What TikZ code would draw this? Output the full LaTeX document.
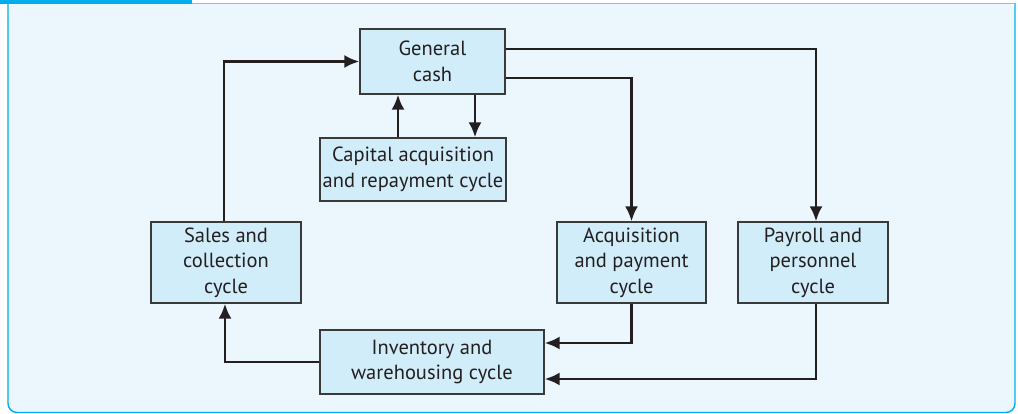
\documentclass[tikz,border=0pt]{standalone}
\usepackage{fontspec}
\setmainfont{PT Sans}
\usetikzlibrary{arrows.meta}

\definecolor{framecyan}{HTML}{00AEEF}
\definecolor{framebg}{HTML}{EBF6FD}
\definecolor{boxbg}{HTML}{D2EDFA}
\definecolor{boxline}{HTML}{3A3A3A}
\definecolor{ink}{HTML}{231F20}

\begin{document}
\begin{tikzpicture}[x=1pt,y=-1pt,
  cyclebox/.style={draw=boxline,fill=boxbg,line width=1.2pt,align=center,
    inner sep=0pt,text=ink,font=\fontsize{20.5}{25.5}\selectfont},
  flow/.style={draw=ink,line width=2.8pt,-{Latex[length=15pt,width=13pt]}}]
\useasboundingbox (0,0) rectangle (1018,414);
% frame
\fill[framebg,rounded corners=9pt] (8,3) -- (8,412.5) -- (1015,412.5) -- (1015,3) -- cycle;
\draw[framecyan,line width=1.4pt,rounded corners=9pt] (8,3) -- (8,412.5) -- (1015,412.5) -- (1015,3);
\draw[framecyan!60,line width=1pt] (0,3.5) -- (1015,3.5);
\fill[framecyan] (0,0) rectangle (192,4);
% cycles
\node[cyclebox,minimum width=145pt,minimum height=65pt] (cash) at (432.5,61.5) {General\\cash};
\node[cyclebox,minimum width=186pt,minimum height=63pt] (capital) at (413,169.5) {Capital acquisition\\and repayment cycle};
\node[cyclebox,minimum width=150pt,minimum height=81pt] (sales) at (226,262.5) {Sales and\\collection\\cycle};
\node[cyclebox,minimum width=149pt,minimum height=81pt] (acq) at (631.5,262.5) {Acquisition\\and payment\\cycle};
\node[cyclebox,minimum width=150pt,minimum height=81pt] (pay) at (813,262.5) {Payroll and\\personnel\\cycle};
\node[cyclebox,minimum width=224pt,minimum height=64pt] (inv) at (432,362) {Inventory and\\warehousing cycle};
% flows
\draw[flow] ([xshift=-2pt]sales.north) |- (cash.west);
\draw[flow] ([xshift=-15pt]capital.north) -- ([xshift=-15pt]capital.north |- cash.south);
\draw[flow] ([xshift=62pt]capital.north |- cash.south) -- ([xshift=62pt]capital.north);
\draw[flow] ([yshift=12.5pt]cash.east) -| ([xshift=3pt]pay.north);
\draw[flow] ([yshift=-16.5pt]cash.east) -| (acq.north);
\draw[flow] (acq.south) |- ([yshift=19pt]inv.east);
\draw[flow] ([xshift=3pt]pay.south) |- ([yshift=-17pt]inv.east);
\draw[flow] (inv.west) -| ([xshift=-1pt]sales.south);
\end{tikzpicture}
\end{document}
